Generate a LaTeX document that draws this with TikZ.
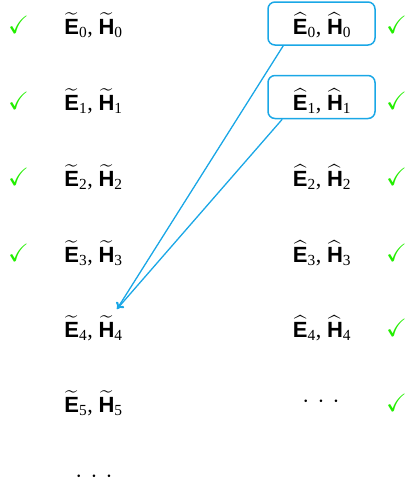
\documentclass[tikz,border=0pt]{standalone}
\usepackage{fontspec}
\usepackage{amsmath,amssymb}
\usetikzlibrary{arrows.meta}
\setsansfont{Liberation Sans}
\newfontfamily\tnrfont{Liberation Serif}
\definecolor{boxblue}{HTML}{1AA7E6}
\definecolor{chk}{HTML}{22EE00}
\newcommand{\lbl}[1]{\text{\sffamily\bfseries #1}}
\newcommand{\sbs}[1]{\text{\tnrfont #1}}
\newcommand{\pairT}[1]{$\widetilde{\lbl{E}}_{\sbs{#1}}\text{\tnrfont ,}\;\widetilde{\lbl{H}}_{\sbs{#1}}$}
\newcommand{\pairH}[1]{$\widehat{\lbl{E}}_{\sbs{#1}}\text{\tnrfont ,}\;\widehat{\lbl{H}}_{\sbs{#1}}$}
\tikzset{
  txt/.style={anchor=base, inner sep=0pt, font=\fontsize{22}{24}\selectfont},
  ck/.style={anchor=base, inner sep=0pt, text=chk, font=\fontsize{25}{27}\selectfont},
  boxst/.style={draw=boxblue, line width=1.5pt, rounded corners=7pt, minimum width=107pt, minimum height=43pt, inner sep=0pt},
  arr/.style={draw=boxblue, line width=1.3pt, -{To[length=6pt,width=9pt]}},
  dts/.style={anchor=base, inner sep=0pt, font=\fontsize{25}{27}\selectfont}
}
\newcommand{\tdots}{$\cdot\mkern2mu\cdot\mkern2mu\cdot$}
\begin{document}
\begin{tikzpicture}[x=1pt,y=-1pt]
\useasboundingbox (0,0) rectangle (406,480);
% boxes
\node[boxst] (b0) at (321.5,23.5) {};
\node[boxst] (b1) at (321.5,97) {};
% left column
\node[txt] (l0) at (93.5,34) {\pairT{0}};
\node[txt] (l1) at (93.5,110) {\pairT{1}};
\node[txt] (l2) at (93.5,186) {\pairT{2}};
\node[txt] (l3) at (93.5,262) {\pairT{3}};
\node[txt] (l4) at (93.5,337) {\pairT{4}};
\node[txt] (l5) at (93.5,412) {\pairT{5}};
\node[dts] (l6) at (94,482) {\tdots};
% right column
\node[txt] (r0) at (322,34) {\pairH{0}};
\node[txt] (r1) at (322,110) {\pairH{1}};
\node[txt] (r2) at (322,186) {\pairH{2}};
\node[txt] (r3) at (322,262) {\pairH{3}};
\node[txt] (r4) at (322,337) {\pairH{4}};
\node[dts] (r5) at (321,407) {\tdots};
% checks left
\node[ck] (cl0) at (18.5,33) {$\checkmark$};
\node[ck] (cl1) at (18.5,109) {$\checkmark$};
\node[ck] (cl2) at (18.5,185) {$\checkmark$};
\node[ck] (cl3) at (18.5,261) {$\checkmark$};
% checks right
\node[ck] (cr0) at (396.5,33) {$\checkmark$};
\node[ck] (cr1) at (396.5,109) {$\checkmark$};
\node[ck] (cr2) at (396.5,185) {$\checkmark$};
\node[ck] (cr3) at (396.5,261) {$\checkmark$};
\node[ck] (cr4) at (396.5,336) {$\checkmark$};
\node[ck] (cr5) at (396.5,411) {$\checkmark$};
% arrows
\coordinate (tip) at (117,309);
\draw[arr] ([xshift=16pt]b0.south west) -- (tip);
\draw[arr] ([xshift=15pt]b1.south west) -- (tip);
\end{tikzpicture}
\end{document}
